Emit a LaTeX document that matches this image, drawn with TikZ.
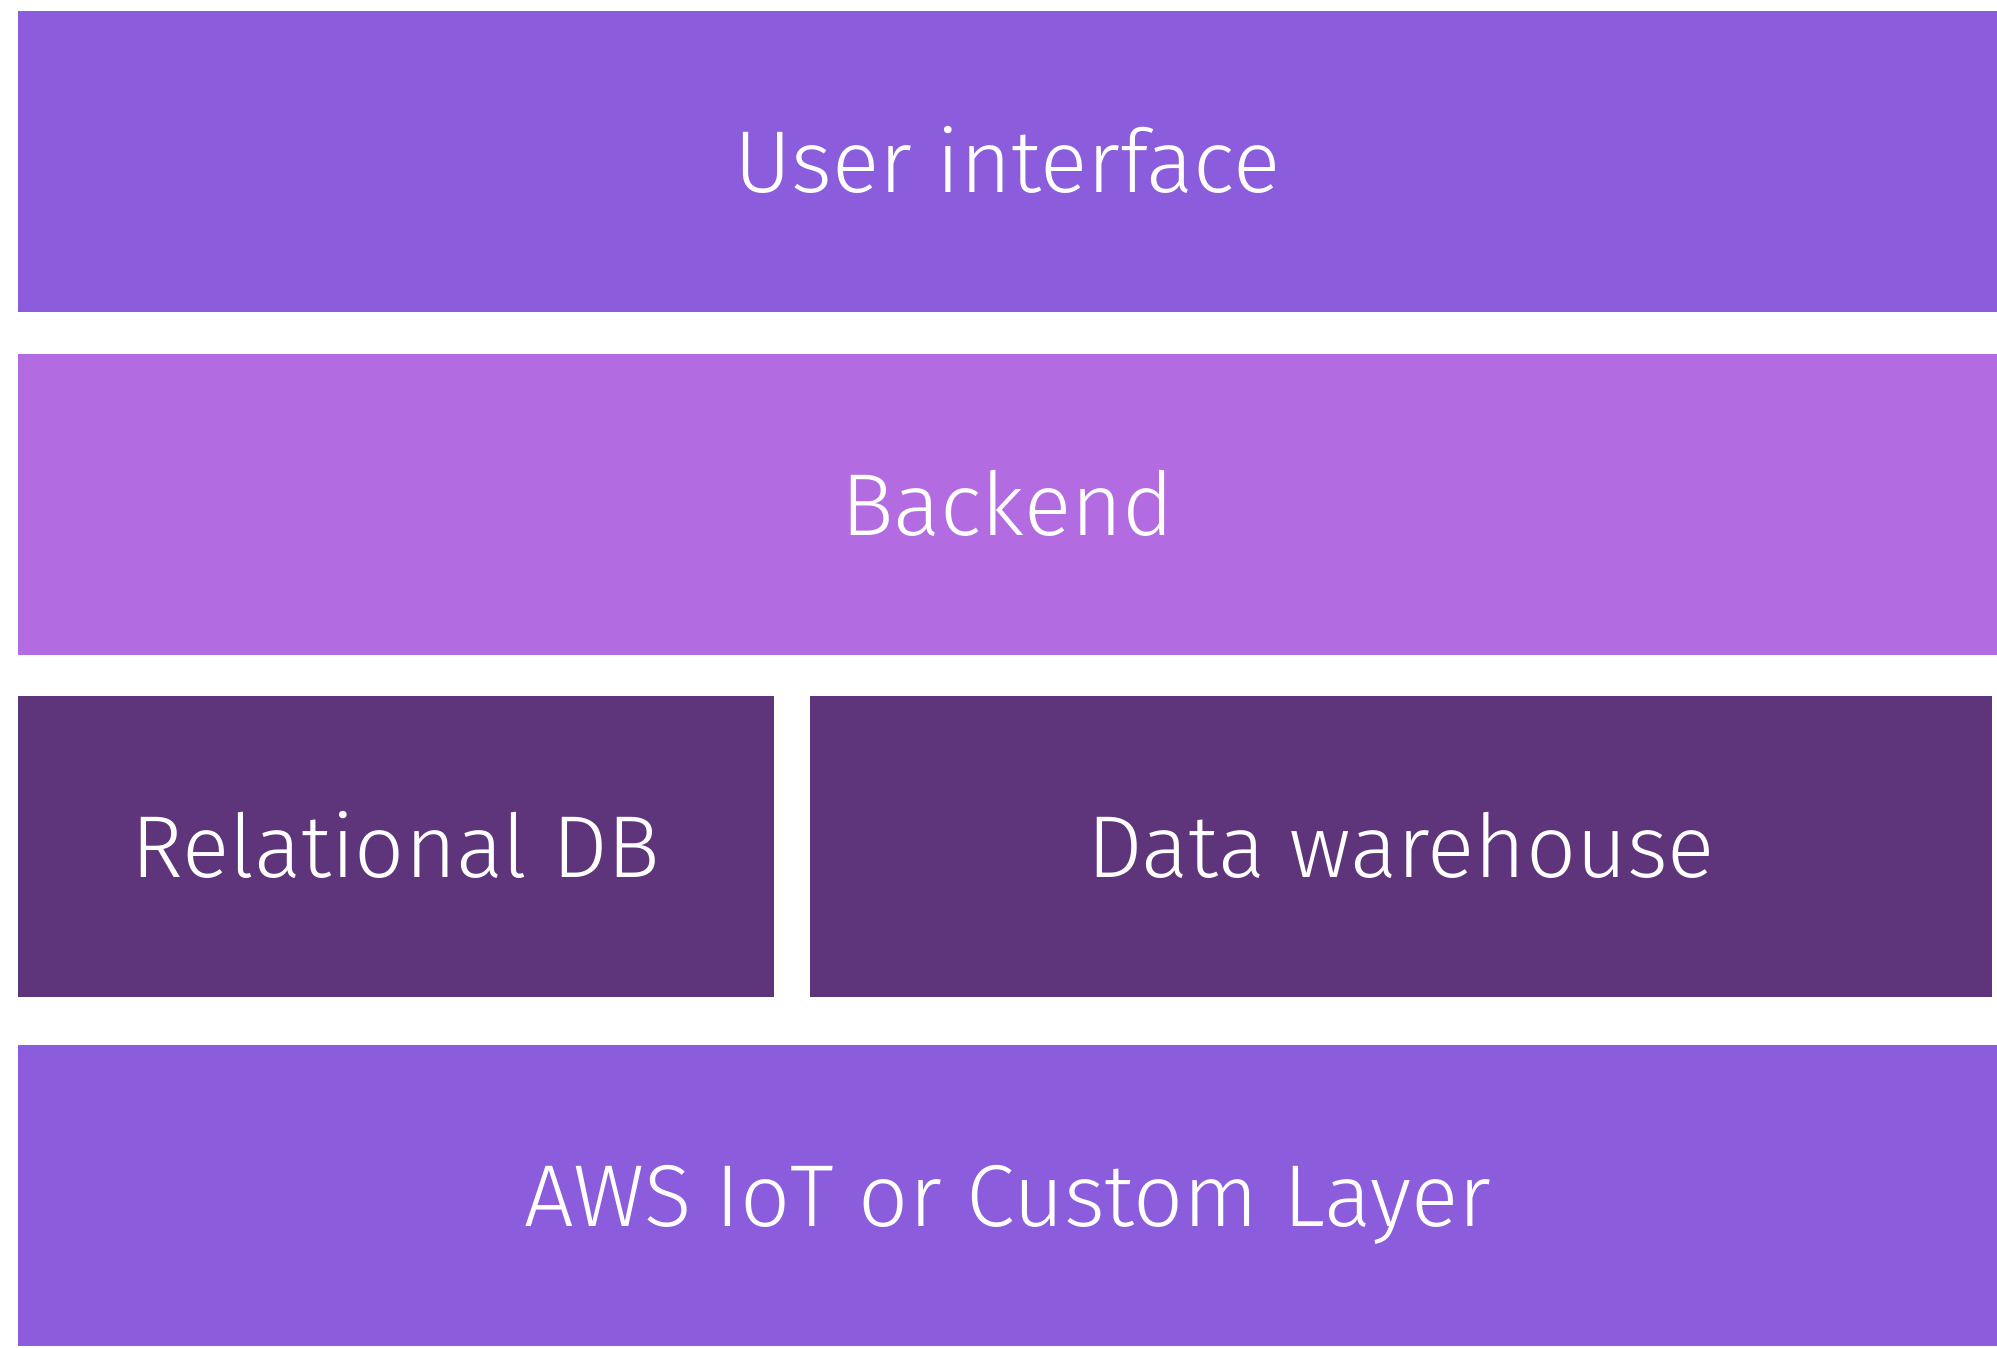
\documentclass[tikz,border=0pt]{standalone}
\usepackage{fontspec}
\setmainfont{Fira Sans}[UprightFont=* Light]
\usetikzlibrary{positioning}

\definecolor{roxoclaro}{RGB}{139,92,220}
\definecolor{lilas}{RGB}{179,107,226}
\definecolor{roxoescuro}{RGB}{94,52,122}

\begin{document}
\begin{tikzpicture}[
  camada/.style={rectangle, fill=roxoclaro, draw=none, inner sep=0pt, outer sep=0pt,
                 minimum width=197.9mm, minimum height=30.1mm,
                 text=white, font=\fontsize{25}{30}\selectfont,
                 text height=17.5pt, text depth=0pt},
  meio/.style={camada, fill=lilas},
  banco/.style={camada, fill=roxoescuro}
]
\useasboundingbox (0,0) rectangle (199.7mm,-134.7mm);

% ---------------- Camadas de cima ----------------
\node[camada, anchor=north west] (ui) at (1.8mm,-1.1mm) {User interface};
\node[meio, below=4.2mm of ui] (backend) {Backend};

% ---------------- Armazenamento ----------------
\node[banco, minimum width=75.6mm, below=4.1mm of backend.south west, anchor=north west] (rdb) {Relational DB};
\node[banco, minimum width=118.2mm, right=3.6mm of rdb] (dw) {Data warehouse};

% ---------------- Camada de base ----------------
\node[camada, below=4.8mm of rdb.south west, anchor=north west] (iot) {AWS IoT or Custom Layer};

\end{tikzpicture}
\end{document}
